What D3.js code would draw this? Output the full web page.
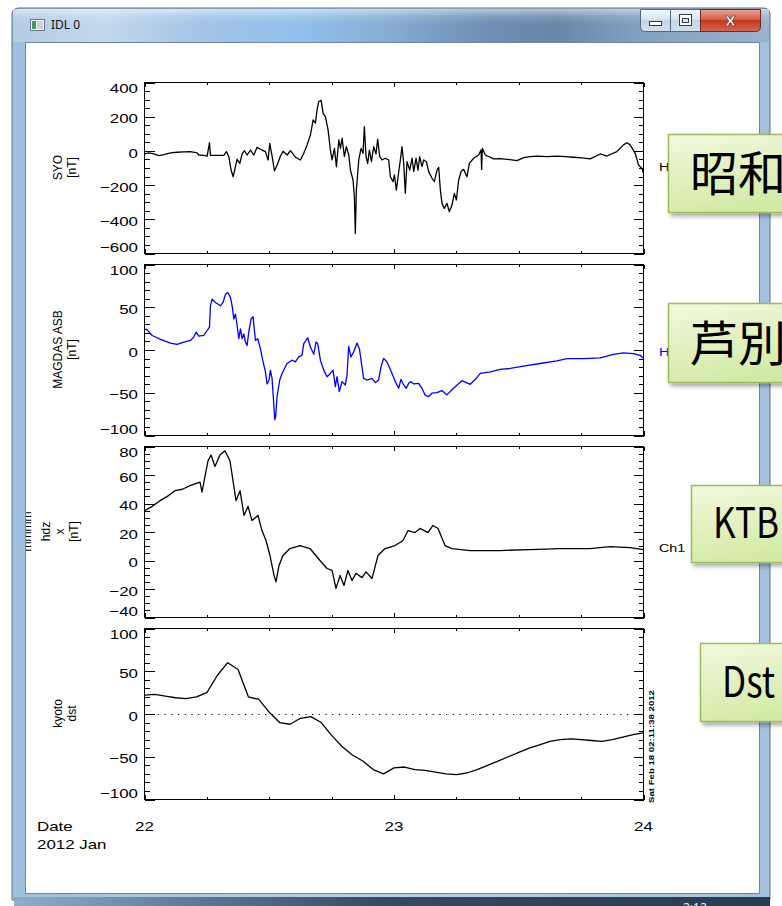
<!DOCTYPE html>
<html>
<head>
<meta charset="utf-8">
<title>IDL 0</title>
<script src="https://cdn.jsdelivr.net/npm/d3@7"></script>
<style>
  html, body { margin: 0; padding: 0; background: #ffffff; }
  svg { display: block; }
</style>
</head>
<body>
<svg id="win" width="782" height="906"></svg>
<script>
// ---------- time axis: hours after 2012-01-22 00:00 UT ----------
const dayTickHours = [0, 24, 48];
const dayTickLabels = ["22", "23", "24"];
const quarterDayHours = [6, 12, 18, 30, 36, 42];

// ---------- SYO (Syowa) H component [nT] ----------
const syoHours = [0.00, 0.42, 0.90, 1.38, 1.86, 2.50, 3.14, 3.78, 4.42, 5.06, 5.22, 5.70, 6.03, 6.25, 6.35, 7.63, 7.88, 8.11, 8.33, 8.53, 8.75, 8.91,
  9.17, 9.39, 9.62, 9.87, 10.19, 10.51, 10.83, 11.31, 11.63, 11.89, 12.05, 12.28, 12.50, 12.76, 13.08, 13.33,
  13.72, 14.04, 14.52, 15.00, 15.32, 15.64, 15.96, 16.22, 16.44, 16.60, 16.76, 16.99, 17.18, 17.40, 17.66, 17.88,
  18.04, 18.27, 18.46, 18.69, 18.85, 19.01, 19.23, 19.42, 19.65, 19.81, 20.06, 20.19, 20.28, 20.38, 20.61, 20.83,
  21.02, 21.15, 21.31, 21.47, 21.63, 21.83, 22.05, 22.27, 22.43, 22.63, 22.85, 23.17, 23.49, 23.65, 23.91, 24.04,
  24.23, 24.39, 24.61, 24.77, 24.93, 25.09, 25.25, 25.51, 25.74, 25.90, 26.12, 26.31, 26.47, 26.70, 26.86, 27.11,
  27.34, 27.66, 27.88, 28.14, 28.30, 28.46, 28.62, 28.84, 29.10, 29.32, 29.58, 29.80, 30.00, 30.22, 30.45, 30.70,
  31.02, 31.25, 31.66, 32.14, 32.37, 32.43, 32.50, 32.78, 33.59, 34.23, 34.87, 35.83, 36.47, 37.11, 37.75, 38.71,
  39.67, 40.47, 41.28, 42.08, 42.88, 43.84, 44.48, 45.44, 46.08, 46.40, 46.72, 47.20, 47.52, 47.85, 48.00];
const syoNT = [-18, -12, -18, -28, -22, -12, -8, -6, -4, -12, -24, -26, -30, 48, -26, -26, -4, -34, -112, -151, -92, -49,
  -73, -18, 1, -24, 5, -24, 21, 5, -4, -53, 44, -34, -116, -82, -30, -2,
  -24, 1, -37, -53, -14, 35, 93, 181, 162, 240, 289, 295, 220, 201, 123, 5,
  -53, 15, -92, 64, 15, 74, -34, 25, -24, -112, -170, -268, -483, -229, -53, 15,
  -14, 142, -34, -73, 5, -63, 25, -18, 68, -34, -53, -43, -53, -151, -180, -141,
  -229, -151, -53, 25, -73, -248, -63, -112, -43, -121, -43, -112, -34, -92, -53, -63,
  -121, -160, -180, -112, -96, -229, -307, -336, -307, -356, -317, -248, -287, -170, -121, -108,
  -151, -73, -43, -24, 5, -108, 15, -24, -47, -45, -49, -57, -39, -34, -30, -33,
  -30, -34, -37, -41, -47, -18, -30, -4, 35, 48, 35, -14, -82, -102, -131];
const syoTicks = [400, 200, 0, -200, -400, -600];

// ---------- MAGDAS ASB (Ashibetsu) H component [nT] ----------
const asbHours = [0.00, 0.26, 0.74, 1.54, 2.50, 3.14, 3.78, 4.42, 4.74, 4.97, 5.22, 5.70, 6.02, 6.25, 6.34, 6.50,
  6.82, 7.31, 7.56, 7.79, 8.01, 8.27, 8.43, 8.59, 8.75, 8.91, 9.07, 9.23, 9.39, 9.55, 9.71, 9.87,
  10.03, 10.25, 10.44, 10.67, 10.89, 11.15, 11.37, 11.63, 11.79, 11.98, 12.11, 12.27, 12.43, 12.53, 12.62, 12.75,
  13.01, 13.23, 13.71, 14.19, 14.51, 14.83, 15.15, 15.32, 15.54, 15.70, 15.96, 16.28, 16.50, 16.66, 16.92, 17.24,
  17.56, 17.88, 18.13, 18.36, 18.52, 18.74, 19.00, 19.32, 19.48, 19.58, 19.64, 19.86, 20.12, 20.44, 20.67, 20.92,
  21.08, 21.40, 21.88, 22.20, 22.52, 22.75, 23.00, 23.33, 23.81, 24.13, 24.45, 24.67, 24.93, 25.18, 25.41, 25.63,
  25.89, 26.37, 26.69, 27.01, 27.33, 27.65, 28.13, 28.61, 29.09, 29.73, 30.53, 31.34, 31.82, 32.30, 33.26, 34.22,
  35.18, 36.46, 38.06, 39.67, 40.63, 42.23, 43.83, 45.11, 46.07, 47.03, 47.68, 48.00];
const asbNT = [24.7, 23.6, 17.0, 12.4, 8.1, 6.6, 9.3, 11.2, 15.1, 20.9, 16.2, 17.0, 22.8, 26.7, 51.7, 59.5,
  55.6, 51.7, 55.6, 65.3, 67.2, 61.4, 51.7, 36.3, 42.1, 28.6, 13.2, 24.7, 13.2, 18.9, 9.3, 5.4,
  20.9, 36.3, 39.0, 11.2, 13.2, 1.6, -11.9, -25.5, -39.7, -35.1, -23.5, -33.2, -62.1, -81.4, -77.6, -54.4,
  -35.1, -27.4, -15.8, -11.9, -13.9, -8.1, -6.2, 7.4, 11.2, 14.3, 3.5, -5.0, 9.3, 7.4, -11.9, -23.5,
  -31.2, -27.4, -23.5, -42.8, -31.2, -48.6, -37.0, -40.9, -29.3, -8.1, 4.3, -8.1, -2.3, 8.1, 1.6, -19.7,
  -33.2, -35.1, -33.2, -38.2, -35.1, -19.7, -10.0, -13.9, -27.4, -37.0, -44.8, -34.3, -40.9, -44.8, -39.0, -37.0,
  -39.7, -39.0, -44.8, -53.2, -54.4, -50.5, -49.8, -47.5, -52.5, -44.8, -35.9, -40.1, -34.3, -27.4, -25.5, -22.7,
  -21.6, -18.9, -15.8, -12.7, -10.0, -10.0, -9.2, -5.0, -3.4, -4.2, -6.2, -10.0];
const asbTicks = [100, 50, 0, -50, -100];

// ---------- KTB H component (x) [nT] ----------
const ktbHours = [0.00, 0.75, 1.49, 2.20, 2.93, 3.65, 4.38, 5.34, 5.53, 5.82, 6.11, 6.40, 6.78, 7.26, 7.74, 8.22, 8.51, 8.80, 9.19,
  9.57, 9.96, 10.34, 10.92, 11.30, 11.69, 12.07, 12.46, 12.65, 12.94, 13.32, 14.00, 14.96, 15.92, 16.88, 17.56,
  18.04, 18.42, 18.81, 19.19, 19.57, 19.96, 20.34, 20.92, 21.31, 21.89, 22.46, 23.14, 24.10, 24.87, 25.35, 26.02,
  26.50, 27.27, 27.75, 28.24, 28.91, 29.58, 31.32, 34.20, 37.09, 39.97, 42.86, 44.78, 46.70, 48.00];
const ktbNT = [35, 38, 42, 45, 49, 50, 52.6, 55, 48, 59, 70, 74, 66, 74, 77, 70, 56, 42, 49,
  31.6, 38, 28, 31.6, 21, 14, 3.5, -10.5, -15, -3.5, 3.5, 8.4, 10.5, 8.4, 0, -5.6,
  -7, -19.6, -10.5, -17.5, -7, -14, -9, -12, -8, -12.6, 3.5, 8.4, 10.5, 14, 21, 19.6,
  22.5, 19.6, 24.6, 22.5, 10.5, 8.4, 7, 7, 7.7, 8.4, 8.4, 9.8, 9, 7.7];
const ktbTicks = [80, 60, 40, 20, 0, -20, -40];

// ---------- Kyoto Dst, hourly [nT] ----------
const dstHours = [0, 1, 2, 3, 4, 5, 6, 7, 8, 9, 10, 11, 12, 13, 14, 15, 16, 17, 18, 19, 20, 21, 22, 23, 24,
  25, 26, 27, 28, 29, 30, 31, 32, 33, 34, 35, 36, 37, 38, 39, 40, 41, 42, 43, 44, 45, 46, 47, 48];
const dstNT = [22, 23, 21, 19, 18, 20, 25, 45, 60, 52, 20, 17, 2, -10, -12, -5, -3, -10, -25, -38, -48, -55, -65, -70, -63,
  -62, -65, -66, -68, -70, -71, -69, -65, -60, -55, -50, -45, -40, -36, -32, -30, -29, -30, -31, -32, -30, -27, -24, -22];
const dstTicks = [100, 50, 0, -50, -100];

// ---------- text ----------
const calloutLabels = ["昭和", "芦別", "KTB", "Dst"];
const plotStamp = "Sat Feb 18 02:11:38 2012";

// ============================================================
const svg = d3.select("#win");
const defs = svg.append("defs");
const STRETCH = 1.3;                      // IDL device text is drawn wide
const IDL_FONT = "'Liberation Sans', Arial, Helvetica, sans-serif";

function idlText(g, x, y, str, o = {}) {
  const k = o.stretch || STRETCH;
  return g.append("text")
    .attr("transform", `translate(${x},${y}) scale(${k},1)` + (o.rotate ? " rotate(-90)" : ""))
    .attr("font-family", IDL_FONT)
    .attr("font-size", o.size || 13)
    .attr("text-anchor", o.anchor || "start")
    .attr("fill", o.fill || "#000")
    .text(str);
}
function grad(id, stops, x2 = 0, y2 = 1) {
  const g = defs.append("linearGradient").attr("id", id)
    .attr("x1", 0).attr("y1", 0).attr("x2", x2).attr("y2", y2);
  stops.forEach(([o, c]) => g.append("stop").attr("offset", o).attr("stop-color", c));
}

// ---------- window chrome ----------
grad("titleGrad", [[0, "#b3cbe4"], [0.12, "#c2d8ee"], [0.25, "#a2c4e6"], [0.38, "#92c0ec"], [0.5, "#86acd2"],
  [0.62, "#6e90b4"], [0.72, "#6887a9"], [0.82, "#819fbf"], [1, "#98b3cf"]], 1, 0);
grad("titleGloss", [[0, "rgba(255,255,255,0.5)"], [0.5, "rgba(255,255,255,0.12)"], [1, "rgba(255,255,255,0)"]]);
grad("sideGrad", [[0, "#9fbfdf"], [0.5, "#b7d2ec"], [1, "#a3c1de"]], 1, 0);
grad("taskGrad", [[0, "#8eaecd"], [0.25, "#5b7694"], [0.5, "#34485f"], [1, "#2b3b4f"]], 1, 0);
grad("btnGrad", [[0, "#f2f6fb"], [0.45, "#d9e4f0"], [0.5, "#c4d4e5"], [1, "#d3e0ee"]]);
grad("closeGrad", [[0, "#e9a392"], [0.45, "#d4624a"], [0.5, "#c2391f"], [1, "#d8694d"]]);
grad("boxGrad", [[0, "#f2f9de"], [1, "#d3eaa6"]], 0.3, 1);

const chrome = svg.append("g");
chrome.append("path")
  .attr("d", "M12,900 V15 Q12,8 19,8 H763 Q770,8 770,15 V900 Z")
  .attr("fill", "url(#sideGrad)").attr("stroke", "#5d6f84").attr("stroke-width", 1);
chrome.append("path")
  .attr("d", "M13,42 V15 Q13,9 19,9 H763 Q769,9 769,15 V42 Z")
  .attr("fill", "url(#titleGrad)");
chrome.append("rect").attr("x", 13).attr("y", 9).attr("width", 756).attr("height", 16)
  .attr("fill", "url(#titleGloss)");
chrome.append("rect").attr("x", 14).attr("y", 897).attr("width", 756).attr("height", 9)
  .attr("fill", "url(#taskGrad)");
chrome.append("text").attr("x", 683).attr("y", 912).attr("font-family", "'Noto Sans', sans-serif")
  .attr("font-size", 12).attr("fill", "#e8eef5").text("2:12");
chrome.append("rect").attr("x", 25.5).attr("y", 42.5).attr("width", 734).attr("height", 851)
  .attr("fill", "#ffffff").attr("stroke", "#70849a").attr("stroke-width", 1);

chrome.append("rect").attr("x", 30.5).attr("y", 19.5).attr("width", 14).attr("height", 11)
  .attr("fill", "#f4f6f8").attr("stroke", "#6b7b8c");
chrome.append("rect").attr("x", 32).attr("y", 21).attr("width", 4).attr("height", 8).attr("fill", "#3f9b62");
chrome.append("rect").attr("x", 37).attr("y", 21).attr("width", 6).attr("height", 8).attr("fill", "#c9d3dc");
chrome.append("text").attr("x", 51).attr("y", 29).attr("font-family", "'Noto Sans', 'DejaVu Sans', sans-serif")
  .attr("font-size", 12).attr("fill", "#111").text("IDL 0");

const btn = chrome.append("g");
btn.append("path").attr("d", "M640.5,9.5 H670.5 V31.5 H645.5 Q640.5,31.5 640.5,26.5 Z")
  .attr("fill", "url(#btnGrad)").attr("stroke", "#56677b");
btn.append("rect").attr("x", 670.5).attr("y", 9.5).attr("width", 30).attr("height", 22)
  .attr("fill", "url(#btnGrad)").attr("stroke", "#56677b");
btn.append("path").attr("d", "M700.5,9.5 H760.5 V26.5 Q760.5,31.5 755.5,31.5 H700.5 Z")
  .attr("fill", "url(#closeGrad)").attr("stroke", "#6b2b1f");
btn.append("rect").attr("x", 649.5).attr("y", 21.5).attr("width", 12).attr("height", 4)
  .attr("fill", "#ffffff").attr("stroke", "#333d48");
btn.append("rect").attr("x", 679.5).attr("y", 14.5).attr("width", 12).attr("height", 11)
  .attr("fill", "#ffffff").attr("stroke", "#333d48");
btn.append("rect").attr("x", 682.5).attr("y", 18.5).attr("width", 6).attr("height", 4)
  .attr("fill", "#dfe6ee").attr("stroke", "#333d48");
btn.append("text").attr("x", 730.5).attr("y", 26).attr("text-anchor", "middle")
  .attr("font-family", "'DejaVu Sans', sans-serif").attr("font-weight", "bold").attr("font-size", 14)
  .attr("fill", "#ffffff").attr("stroke", "#5a2418").attr("stroke-width", 0.6).text("X");

// ---------- stacked plot ----------
defs.append("clipPath").attr("id", "clientClip").append("rect")
  .attr("x", 26).attr("y", 43).attr("width", 733).attr("height", 850);
const plot = svg.append("g").attr("clip-path", "url(#clientClip)");

const PANEL_H = 171;
const x = d3.scaleLinear().domain([0, 48]).range([144.5, 643.5]);

const panels = [
  { top: 82, domain: [-600, 400], ticks: syoTicks, minorStep: 50, hours: syoHours, values: syoNT,
    color: "#000000", title: ["SYO", "[nT]"], titleX: [62, 76] },
  { top: 264, domain: [-100, 100], ticks: asbTicks, minorStep: 10, hours: asbHours, values: asbNT,
    color: "#0000ff", title: ["MAGDAS ASB", "[nT]"], titleX: [62, 76] },
  { top: 446, domain: [-40, 80], ticks: ktbTicks, minorStep: 5, hours: ktbHours, values: ktbNT,
    color: "#000000", title: ["mmmm", "hdz", "x", "[nT]"], titleX: [31, 50, 64, 78] },
  { top: 628, domain: [-100, 100], ticks: dstTicks, minorStep: 10, hours: dstHours, values: dstNT,
    color: "#000000", title: ["kyoto", "dst"], titleX: [62, 76] }
];

const fmt = v => (v < 0 ? "\u2212" + Math.abs(v) : String(v));

panels.forEach((p, i) => {
  const y = d3.scaleLinear().domain(p.domain).range([p.top + PANEL_H + 0.5, p.top + 0.5]);
  const g = plot.append("g");
  const y0 = p.top + 0.5, y1 = p.top + PANEL_H + 0.5;
  const minor = d3.range(p.domain[0], p.domain[1] + 1e-9, p.minorStep);

  const tickStyle = sel => {
    sel.select(".domain").remove();
    sel.selectAll("line").attr("stroke", "#000").attr("shape-rendering", "crispEdges");
    sel.selectAll("text").remove();
  };
  g.append("g").attr("transform", `translate(${x.range()[0]},0)`)
    .call(d3.axisLeft(y).tickValues(minor).tickSize(-5).tickFormat("")).call(tickStyle);
  g.append("g").attr("transform", `translate(${x.range()[0]},0)`)
    .call(d3.axisLeft(y).tickValues(p.ticks).tickSize(-10).tickFormat("")).call(tickStyle);
  g.append("g").attr("transform", `translate(${x.range()[1]},0)`)
    .call(d3.axisRight(y).tickValues(minor).tickSize(-5).tickFormat("")).call(tickStyle);
  g.append("g").attr("transform", `translate(${x.range()[1]},0)`)
    .call(d3.axisRight(y).tickValues(p.ticks).tickSize(-10).tickFormat("")).call(tickStyle);
  g.append("g").attr("transform", `translate(0,${y1})`)
    .call(d3.axisBottom(x).tickValues(quarterDayHours).tickSize(-2.5).tickFormat("")).call(tickStyle);
  g.append("g").attr("transform", `translate(0,${y1})`)
    .call(d3.axisBottom(x).tickValues(dayTickHours).tickSize(-4.5).tickFormat("")).call(tickStyle);
  g.append("g").attr("transform", `translate(0,${y0})`)
    .call(d3.axisTop(x).tickValues(quarterDayHours).tickSize(-2.5).tickFormat("")).call(tickStyle);
  g.append("g").attr("transform", `translate(0,${y0})`)
    .call(d3.axisTop(x).tickValues(dayTickHours).tickSize(-4.5).tickFormat("")).call(tickStyle);

  g.append("rect").attr("x", x.range()[0]).attr("y", y0)
    .attr("width", x.range()[1] - x.range()[0]).attr("height", PANEL_H)
    .attr("fill", "none").attr("stroke", "#000").attr("shape-rendering", "crispEdges");

  // tick labels; the end labels are tucked inside the panel height so stacked panels don't collide
  const [lo, hi] = p.domain;
  p.ticks.forEach(v => {
    const nudge = v === hi ? 6 : v === lo ? -6 : 2;
    idlText(g, 138, y(v) + nudge + 4.6, fmt(v), { anchor: "end", size: 13 });
  });

  const mid = p.top + PANEL_H / 2;
  p.title.forEach((t, j) =>
    idlText(g, p.titleX[j], mid, t, { anchor: "middle", size: 12, rotate: true, stretch: 1.1 }));

  if (i === 3) {
    g.append("line").attr("x1", x(0)).attr("x2", x(48))
      .attr("y1", Math.round(y(0)) + 0.5).attr("y2", Math.round(y(0)) + 0.5)
      .attr("stroke", "#000").attr("stroke-width", 1.2).attr("stroke-dasharray", "1.2,5.5");
  }

  const cid = "pclip" + i;
  defs.append("clipPath").attr("id", cid).append("rect")
    .attr("x", x.range()[0]).attr("y", y0).attr("width", x.range()[1] - x.range()[0]).attr("height", PANEL_H);
  const line = d3.line().x(d => x(d[0])).y(d => y(d[1]));
  g.append("path").datum(d3.zip(p.hours, p.values))
    .attr("clip-path", `url(#${cid})`)
    .attr("d", line).attr("fill", "none")
    .attr("stroke", p.color).attr("stroke-width", 1.3).attr("stroke-linejoin", "round");
});

const xLabY = 831;
dayTickHours.forEach((h, i) => idlText(plot, x(h), xLabY, dayTickLabels[i], { anchor: "middle", size: 13 }));
idlText(plot, 37, xLabY, "Date", { size: 13 });
idlText(plot, 37, 849, "2012 Jan", { size: 13 });

idlText(plot, 659, 171, "H", { size: 11 });
idlText(plot, 659, 356, "H", { size: 11, fill: "#0000ff" });
idlText(plot, 659, 552, "Ch1", { size: 11 });
idlText(plot, 654, 803, plotStamp, { size: 7, rotate: true, stretch: 1.1 })
  .attr("font-weight", "bold").attr("textLength", 113).attr("lengthAdjust", "spacingAndGlyphs");

// ---------- station callouts ----------
const shadow = defs.append("filter").attr("id", "boxShadow")
  .attr("x", "-20%").attr("y", "-20%").attr("width", "150%").attr("height", "160%");
shadow.append("feDropShadow").attr("dx", 2.5).attr("dy", 3).attr("stdDeviation", 2.2)
  .attr("flood-color", "#000").attr("flood-opacity", 0.35);

// box left, top, height, text baseline offset, font size, text width (Latin only)
const calloutBoxes = [
  [668, 134, 78, 57, 48, null],
  [668, 303, 79, 58, 48, null],
  [691, 485, 77, 53, 42, 66],
  [700, 643, 78, 54, 42, 53]
];
calloutLabels.forEach((label, i) => {
  const [bx, by, bh, base, fs, tw] = calloutBoxes[i];
  const g = svg.append("g");
  g.append("rect").attr("x", bx + 0.5).attr("y", by + 0.5).attr("width", 140).attr("height", bh)
    .attr("fill", "url(#boxGrad)").attr("stroke", "#9dbb5c").attr("stroke-width", 1.5)
    .attr("filter", "url(#boxShadow)");
  const t = g.append("text").attr("x", bx + 22).attr("y", by + base)
    .attr("font-family", "'Noto Sans CJK JP', 'Noto Sans', sans-serif")
    .attr("font-size", fs).attr("fill", "#000").text(label);
  if (tw) t.attr("textLength", tw).attr("lengthAdjust", "spacingAndGlyphs");
});
</script>
</body>
</html>
